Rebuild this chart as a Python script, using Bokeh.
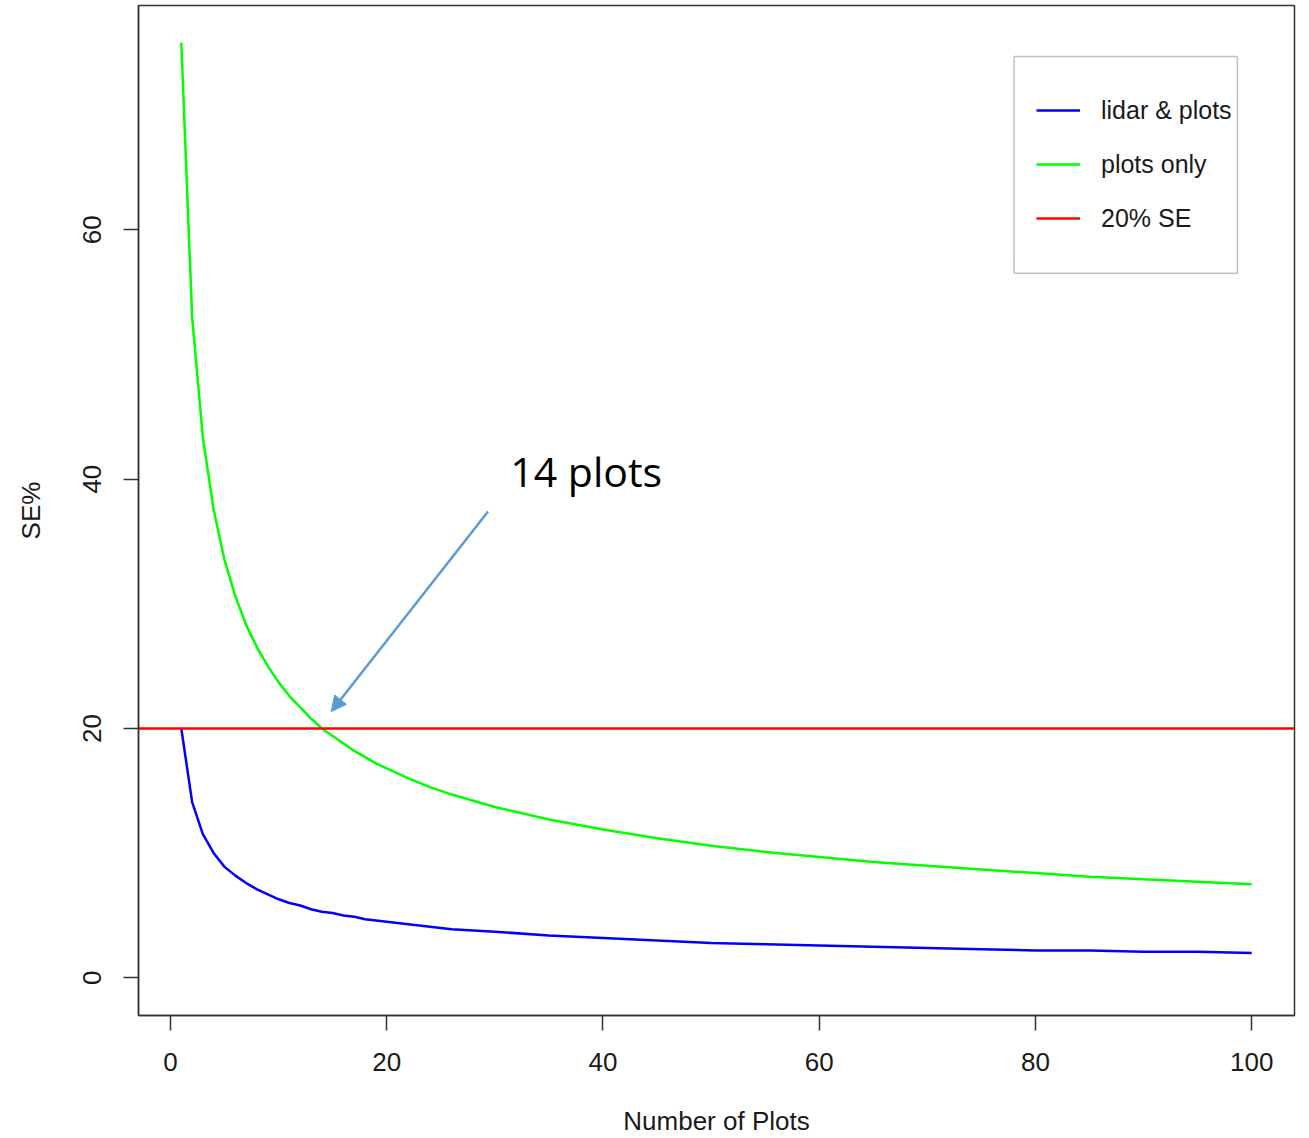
from bokeh.plotting import figure
from bokeh.models import (Range1d, FixedTicker, Legend, LegendItem, BoxAnnotation,
                          Label, Arrow, NormalHead)
from bokeh.embed import file_html
from bokeh.resources import INLINE

# ---- data ----
n_plots = [1, 2, 3, 4, 5, 6, 7, 8, 9, 10, 11, 12, 13, 14, 15, 16, 17, 18, 19, 20,
           22, 24, 26, 28, 30, 35, 40, 45, 50, 55, 60, 65, 70, 75, 80, 85, 90, 95, 100]
se_lidar_plots = [20.0, 14.1, 11.5, 10.0, 8.9, 8.2, 7.6, 7.1, 6.7, 6.3, 6.0, 5.8, 5.5, 5.3,
                  5.2, 5.0, 4.9, 4.7, 4.6, 4.5,
                  4.3, 4.1, 3.9, 3.8, 3.7, 3.4, 3.2, 3.0, 2.8, 2.7, 2.6, 2.5, 2.4, 2.3,
                  2.2, 2.2, 2.1, 2.1, 2.0]
se_plots_only = [75.0, 53.0, 43.3, 37.5, 33.5, 30.6, 28.3, 26.5, 25.0, 23.7, 22.6, 21.7,
                 20.8, 20.0, 19.4, 18.8, 18.2, 17.7, 17.2, 16.8,
                 16.0, 15.3, 14.7, 14.2, 13.7, 12.7, 11.9, 11.2, 10.6, 10.1, 9.7, 9.3,
                 9.0, 8.7, 8.4, 8.1, 7.9, 7.7, 7.5]
target_se = 20
series_names = ["lidar & plots", "plots only", "20% SE"]
x_ticks = [0, 20, 40, 60, 80, 100]
y_ticks = [0, 20, 40, 60]
annotation_text = "14 plots"

# ---- styling / layout ----
FONT = "Liberation Sans"
TXT = "#1a1a1a"
FRAME = "#333333"
BLUE, GREEN, RED = "#0000ff", "#00ff00", "#ff0000"
ARROW_C = "#5b9bd5"
X_LO, X_HI = -2.96, 103.96
Y_LO, Y_HI = -3.02, 77.99

p = figure(width=1309, height=1138, output_backend="svg", toolbar_location=None,
           x_range=Range1d(X_LO, X_HI), y_range=Range1d(Y_LO, Y_HI),
           min_border_left=138, min_border_right=15, min_border_top=5,
           min_border_bottom=123,
           x_axis_label="Number of Plots", y_axis_label="SE%")
p.grid.visible = False
p.outline_line_color = FRAME
p.outline_line_width = 1.5
p.background_fill_color = "white"
p.border_fill_color = "white"

for ax in (p.xaxis[0], p.yaxis[0]):
    ax.axis_line_color = FRAME
    ax.axis_line_width = 1.5
    ax.major_tick_line_color = FRAME
    ax.major_tick_line_width = 1.5
    ax.major_tick_out = 15
    ax.major_tick_in = 0
    ax.minor_tick_line_color = None
    ax.major_label_text_font = FONT
    ax.major_label_text_font_size = "26px"
    ax.major_label_text_color = TXT
    ax.axis_label_text_font = FONT
    ax.axis_label_text_font_size = "26px"
    ax.axis_label_text_font_style = "normal"
    ax.axis_label_text_color = TXT

p.xaxis.ticker = FixedTicker(ticks=x_ticks)
p.yaxis.ticker = FixedTicker(ticks=y_ticks)
p.xaxis.major_label_standoff = 22
p.xaxis.axis_label_standoff = 32
p.yaxis.major_label_orientation = "vertical"
p.yaxis.major_label_standoff = 22
p.yaxis.axis_label_standoff = 35

r_blue = p.line(n_plots, se_lidar_plots, line_color=BLUE, line_width=2.5)
r_green = p.line(n_plots, se_plots_only, line_color=GREEN, line_width=2.5)
# horizontal 20% SE reference line across the whole frame
r_red = p.line([X_LO, X_HI], [target_se, target_se], line_color=RED, line_width=2.5)

# legend frame (R-style box) and legend entries
p.add_layout(BoxAnnotation(left=78.02, right=98.68, bottom=56.52, top=73.90,
                           fill_alpha=0, line_color=FRAME, line_width=1.5))
legend = Legend(
    items=[LegendItem(label=series_names[0], renderers=[r_blue]),
           LegendItem(label=series_names[1], renderers=[r_green]),
           LegendItem(label=series_names[2], renderers=[r_red])],
    location=(898, 782), padding=0, spacing=24, glyph_height=30, label_height=30,
    glyph_width=44, label_standoff=21, margin=0,
    border_line_color=None, background_fill_alpha=0,
    label_text_font=FONT, label_text_font_size="25px", label_text_color=TXT)
p.add_layout(legend)

p.add_layout(Arrow(end=NormalHead(size=15, fill_color=ARROW_C, line_color=ARROW_C),
                   x_start=29.37, y_start=37.40, x_end=14.87, y_end=21.36,
                   line_color=ARROW_C, line_width=2.5))
p.add_layout(Label(x=31.43, y=40.67, text=annotation_text, text_font="Open Sans",
                   text_font_size="41px", text_color="black",
                   text_baseline="alphabetic", text_align="left"))

open("out.html", "w").write(file_html(p, INLINE))
